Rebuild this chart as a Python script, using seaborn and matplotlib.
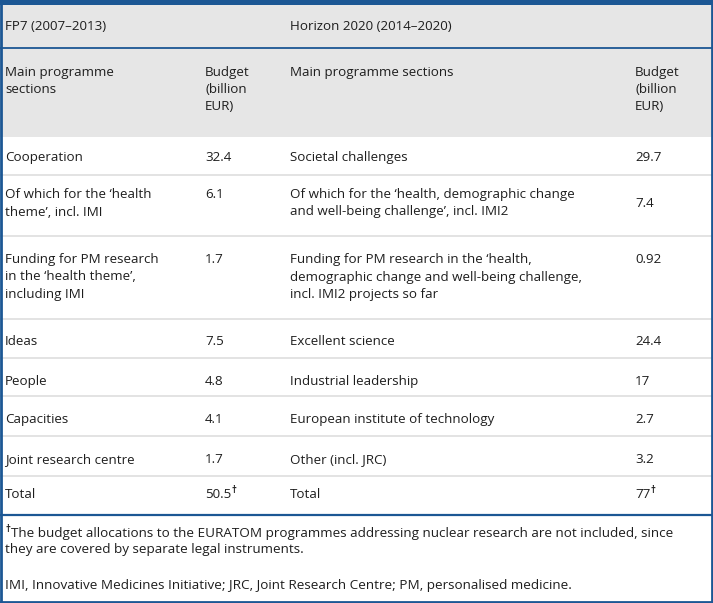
import matplotlib.pyplot as plt
import seaborn as sns

# table content
programmes = ["FP7 (2007\u20132013)", "Horizon 2020 (2014\u20132020)"]
col_headers = ["Main programme\nsections", "Budget\n(billion\nEUR)",
               "Main programme sections", "Budget\n(billion\nEUR)"]
fp7_sections = [
    "Cooperation",
    "Of which for the \u2018health\ntheme\u2019, incl. IMI",
    "Funding for PM research\nin the \u2018health theme\u2019,\nincluding IMI",
    "Ideas",
    "People",
    "Capacities",
    "Joint research centre",
    "Total",
]
fp7_budget = ["32.4", "6.1", "1.7", "7.5", "4.8", "4.1", "1.7", "50.5"]
h2020_sections = [
    "Societal challenges",
    "Of which for the \u2018health, demographic change\nand well-being challenge\u2019, incl. IMI2",
    "Funding for PM research in the \u2018health,\ndemographic change and well-being challenge,\nincl. IMI2 projects so far",
    "Excellent science",
    "Industrial leadership",
    "European institute of technology",
    "Other (incl. JRC)",
    "Total",
]
h2020_budget = ["29.7", "7.4", "0.92", "24.4", "17", "2.7", "3.2", "77"]
dagger_rows = [7]
footnote_1 = ["The budget allocations to the EURATOM programmes addressing nuclear research are not included, since",
              "they are covered by separate legal instruments."]
footnote_2 = "IMI, Innovative Medicines Initiative; JRC, Joint Research Centre; PM, personalised medicine."

# layout (pixels)
W, H = 713, 603
col_x = [5, 205, 290, 635]
row_edges = [137, 175, 236, 319, 358, 396, 436, 476, 515]
text_pad = [14, 13, 17, 16, 17, 17, 17, 12]
blue = "#1c5794"
grey_bg = "#e6e6e6"
sep = "#e0e0e0"
ink = "#1e1e1e"
fs = 9.6

sns.set_theme(style="white")
plt.rcParams["font.family"] = ["Open Sans", "DejaVu Sans"]

fig = plt.figure(figsize=(W / 100, H / 100), dpi=100)
ax = fig.add_axes([0, 0, 1, 1])
ax.set_xlim(0, W)
ax.set_ylim(H, 0)
ax.axis("off")

# header backgrounds
ax.axhspan(5, row_edges[0], color=grey_bg, lw=0)
ax.axhline(48, color=blue, lw=1.3)

# header texts
ax.text(col_x[0], 27, programmes[0], fontsize=fs, color=ink, va="center")
ax.text(col_x[2], 27, programmes[1], fontsize=fs, color=ink, va="center")
for x, lab in zip(col_x, col_headers):
    ax.text(x, 66, lab, fontsize=fs, color=ink, va="top", linespacing=1.42)

# data rows
for i in range(len(fp7_sections)):
    top, bot = row_edges[i], row_edges[i + 1]
    y = top + text_pad[i]
    ax.text(col_x[0], y, fp7_sections[i], fontsize=fs, color=ink, va="top",
            linespacing=1.45)
    t1 = ax.text(col_x[1], y, fp7_budget[i], fontsize=fs, color=ink, va="top")
    ax.text(col_x[2], y, h2020_sections[i], fontsize=fs, color=ink, va="top",
            linespacing=1.45)
    yb = y
    if h2020_sections[i].count("\n") == 1:
        yb = y + 9
    t2 = ax.text(col_x[3], yb, h2020_budget[i], fontsize=fs, color=ink, va="top")
    if i in dagger_rows:
        for t in (t1, t2):
            ax.annotate("\u2020", xy=(1, 1), xycoords=t, xytext=(0.5, 2),
                        textcoords="offset points", fontsize=7,
                        fontweight="bold", color=ink, va="top")
    if i < len(fp7_sections) - 1:
        ax.axhline(bot, color=sep, lw=1.3)

ax.axhline(row_edges[-1], color=blue, lw=1.6)

# footnotes
ffs = 9.7
ax.text(col_x[0] + 6, 533, footnote_1[0], fontsize=ffs, color=ink, va="center")
ax.text(col_x[0], 530, "\u2020", fontsize=7, fontweight="bold", color=ink,
        va="center")
ax.text(col_x[0], 550, footnote_1[1], fontsize=ffs, color=ink, va="center")
ax.text(col_x[0], 586, footnote_2, fontsize=ffs, color=ink, va="center")

# outer frame
ax.axhspan(0, 5, color=blue, lw=0)
ax.axhline(601.5, color=blue, lw=2)
ax.axvline(1, color=blue, lw=2)
ax.axvline(712, color=blue, lw=2)

fig.savefig("out.png", dpi=100)
